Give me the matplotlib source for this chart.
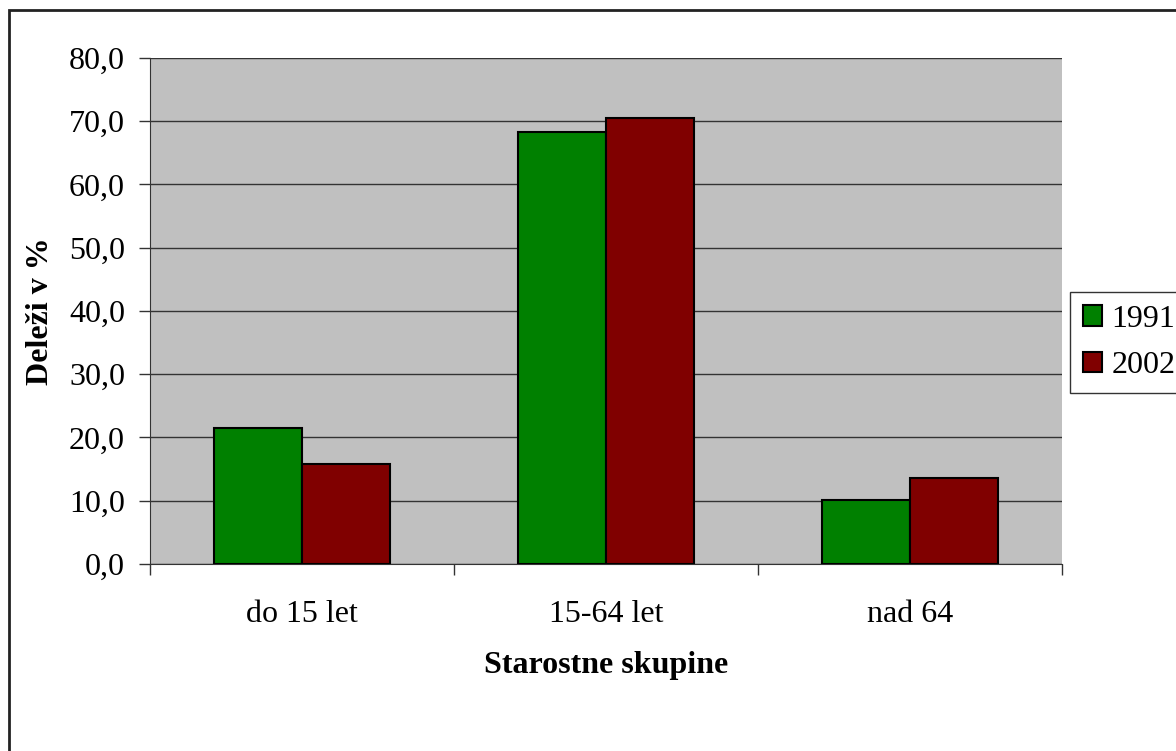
import matplotlib.pyplot as plt
from matplotlib.patches import Rectangle
import numpy as np

# --------------------------------------------------
# Data
# --------------------------------------------------
categories = ["do 15 let", "15-64 let", "nad 64"]
years = ["1991", "2002"]
values_1991 = [21.5, 68.3, 10.1]
values_2002 = [15.8, 70.5, 13.6]
y_ticks = [0, 10, 20, 30, 40, 50, 60, 70, 80]

plt.rcParams['font.family'] = ['Liberation Serif', 'DejaVu Serif']
fs = 23

# --------------------------------------------------
# Plot
# --------------------------------------------------
fig = plt.figure(figsize=(11.76, 7.51), dpi=100)
W, H = 1176, 751
ax = fig.add_axes([150 / W, 1 - 564 / H, 912 / W, 506 / H])
ax.set_facecolor('#C0C0C0')

x = np.arange(len(categories))
bw = 0.288
b1 = ax.bar(x - bw / 2, values_1991, bw, color='#008000', edgecolor='black',
            linewidth=1.5, label=years[0], zorder=3)
b2 = ax.bar(x + bw / 2, values_2002, bw, color='#800000', edgecolor='black',
            linewidth=1.5, label=years[1], zorder=3)

ax.set_xlim(-0.5, len(categories) - 0.5)
ax.set_ylim(0, 80)
ax.set_yticks(y_ticks)
ax.set_yticklabels([f"{v:.1f}".replace('.', ',') for v in y_ticks], fontsize=fs)
ax.yaxis.grid(True, color='#333333', linewidth=1, zorder=1)

# category ticks at boundaries, labels at centres
ax.set_xticks(np.arange(-0.5, len(categories), 1.0))
ax.set_xticklabels([])
ax.set_xticks(x, minor=True)
ax.set_xticklabels(categories, minor=True, fontsize=fs)
ax.tick_params(axis='x', which='minor', length=0, pad=26)
ax.tick_params(axis='x', which='major', length=8, color='#333333', width=1)
ax.tick_params(axis='y', length=8, color='#333333', width=1, pad=10)

for side in ['top', 'right']:
    ax.spines[side].set_visible(False)
ax.spines['left'].set_color('#333333')
ax.spines['bottom'].set_color('#333333')

ax.set_xlabel("Starostne skupine", fontsize=fs, fontweight='bold', va='center')
ax.xaxis.set_label_coords(0.5, (564 - 666) / 506)
ax.set_ylabel("Deleži v %", fontsize=fs, fontweight='bold', va='center')
ax.yaxis.set_label_coords((41 - 150) / 912, (564 - 311) / 506)

leg = fig.legend(handles=[b1, b2], labels=years, loc='upper left',
                 bbox_to_anchor=(1070 / W, 1 - 292 / H), fontsize=fs,
                 frameon=True, fancybox=False, edgecolor='black',
                 handlelength=0.6, handleheight=0.6, handletextpad=0.3,
                 borderpad=0.4, labelspacing=0.55, borderaxespad=0)
leg.get_frame().set_linewidth(1)

# outer chart border
fig.patches.append(Rectangle((9 / W, -0.05), 1.1, 1 - 10 / H + 0.05,
                             transform=fig.transFigure, fill=False,
                             edgecolor='#222222', linewidth=2))

plt.savefig("out.png", dpi=100)
